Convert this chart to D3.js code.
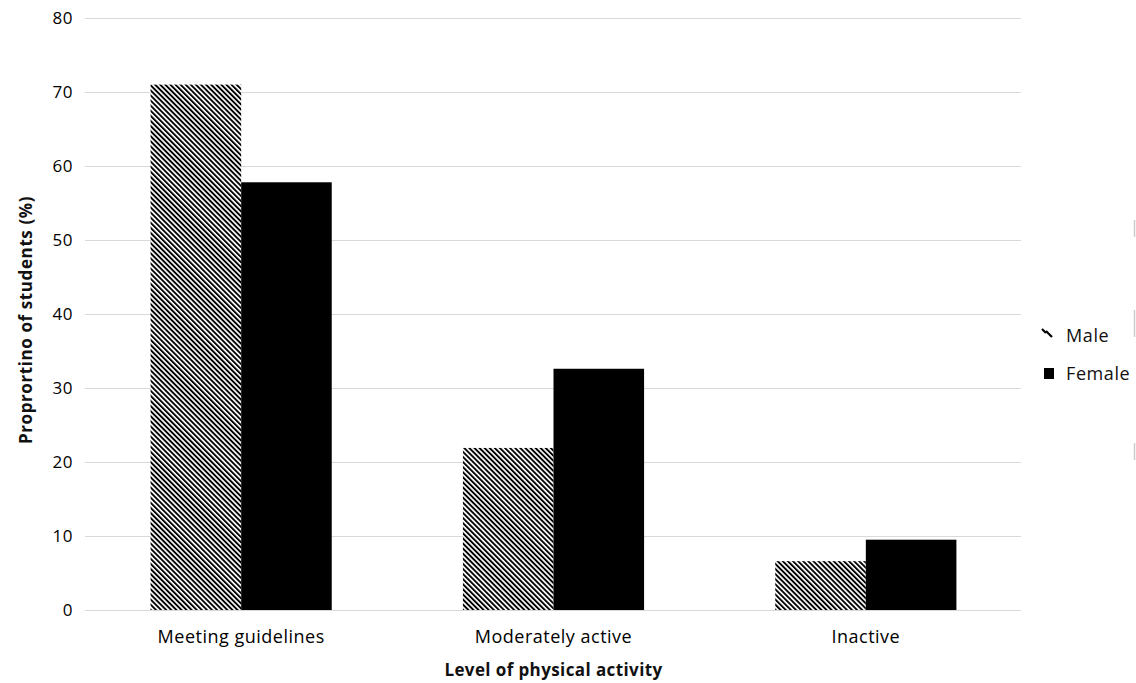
<!DOCTYPE html>
<html><head><meta charset="utf-8">
<script src="https://cdn.jsdelivr.net/npm/d3@7"></script>
<style>body{margin:0;background:#fff}svg{display:block}text{font-family:"Open Sans",sans-serif}</style>
</head><body><svg id="c" width="1136" height="683"></svg>
<script>
const categories = ["Meeting guidelines", "Moderately active", "Inactive"];
const seriesNames = ["Male", "Female"];
const maleValues = [71.0, 21.9, 6.6];
const femaleValues = [57.8, 32.6, 9.5];
const yTicks = [0, 10, 20, 30, 40, 50, 60, 70, 80];

const svg = d3.select("#c");
const m = {l: 85, r: 114, t: 18, b: 73};
const W = 1136, H = 683;
const x0 = d3.scaleBand().domain(categories).range([m.l, W - m.r]).paddingInner(0.42).paddingOuter(0.21);
const x1 = d3.scaleBand().domain(seriesNames).range([0, x0.bandwidth()]);
const y = d3.scaleLinear().domain([0, 80]).range([H - m.b, m.t]);

const defs = svg.append("defs");
const pat = defs.append("pattern").attr("id", "hatch").attr("patternUnits", "userSpaceOnUse")
  .attr("width", 3.6).attr("height", 3.6).attr("patternTransform", "rotate(-45)");
pat.append("rect").attr("width", 3.6).attr("height", 3.6).attr("fill", "#fff");
pat.append("rect").attr("width", 1.9).attr("height", 3.6).attr("fill", "#000");

// grid
svg.append("g").selectAll("line").data(yTicks).join("line")
  .attr("x1", m.l).attr("x2", W - m.r - 1)
  .attr("y1", d => Math.round(y(d)) + 0.5).attr("y2", d => Math.round(y(d)) + 0.5)
  .attr("stroke", "#d9d9d9").attr("stroke-width", 1.2);

// y axis labels
const ya = svg.append("g").attr("transform", `translate(${m.l},0)`)
  .call(d3.axisLeft(y).tickValues(yTicks).tickSize(0).tickPadding(12));
ya.select(".domain").remove();
ya.selectAll("text").attr("font-size", 17).attr("fill", "#000").attr("font-weight", 500).attr("font-family", "Open Sans, sans-serif").attr("letter-spacing", 0.5);

const data = categories.map((c, i) => ({c, vals: [{s: "Male", v: maleValues[i]}, {s: "Female", v: femaleValues[i]}]}));
const g = svg.append("g").selectAll("g").data(data).join("g").attr("transform", d => `translate(${x0(d.c)},0)`);
g.selectAll("rect").data(d => d.vals).join("rect")
  .attr("x", d => x1(d.s)).attr("width", x1.bandwidth())
  .attr("y", d => y(d.v)).attr("height", d => y(0) - y(d.v))
  .attr("fill", d => d.s === "Male" ? "url(#hatch)" : "#000");

// x axis labels
const xa = svg.append("g").attr("transform", `translate(0,${y(0)})`)
  .call(d3.axisBottom(x0).tickSize(0).tickPadding(20));
xa.select(".domain").remove();
xa.selectAll("text").attr("font-size", 18).attr("fill", "#000").attr("font-family", "Open Sans, sans-serif").attr("letter-spacing", 0.5);

// axis titles
svg.append("text").attr("x", (m.l + W - m.r) / 2).attr("y", 676).attr("text-anchor", "middle")
  .attr("font-size", 17).attr("font-weight", "bold").attr("letter-spacing", 0.4).attr("fill", "#111").text("Level of physical activity");
svg.append("text").attr("transform", "translate(32,320) rotate(-90)").attr("text-anchor", "middle")
  .attr("font-size", 17).attr("font-weight", "bold").attr("letter-spacing", 0.6).attr("fill", "#111").text("Proprortino of students (%)");

// legend
const lg = svg.append("g");
const ly = [335, 373];
seriesNames.forEach((s, i) => {
  if (s === "Male") {
    lg.append("line").attr("x1", 1042).attr("y1", ly[i] - 6).attr("x2", 1046).attr("y2", ly[i] - 2).attr("stroke", "#000").attr("stroke-width", 2.2);
    lg.append("line").attr("x1", 1046).attr("y1", ly[i] - 4).attr("x2", 1052).attr("y2", ly[i] + 2).attr("stroke", "#000").attr("stroke-width", 2.2);
  } else {
    lg.append("rect").attr("x", 1044).attr("y", ly[i] - 5).attr("width", 10).attr("height", 11).attr("fill", "#000");
  }
  lg.append("text").attr("x", 1066).attr("y", ly[i] + 7).attr("font-size", 18).attr("letter-spacing", 0.6).attr("fill", "#111").text(s);
});

// faint border fragments at right edge
[[220, 237], [310, 337], [443, 460]].forEach(([a, b]) => {
  svg.append("line").attr("x1", 1134.5).attr("x2", 1134.5).attr("y1", a).attr("y2", b).attr("stroke", "#ccc").attr("stroke-width", 1.5);
});
</script></body></html>
